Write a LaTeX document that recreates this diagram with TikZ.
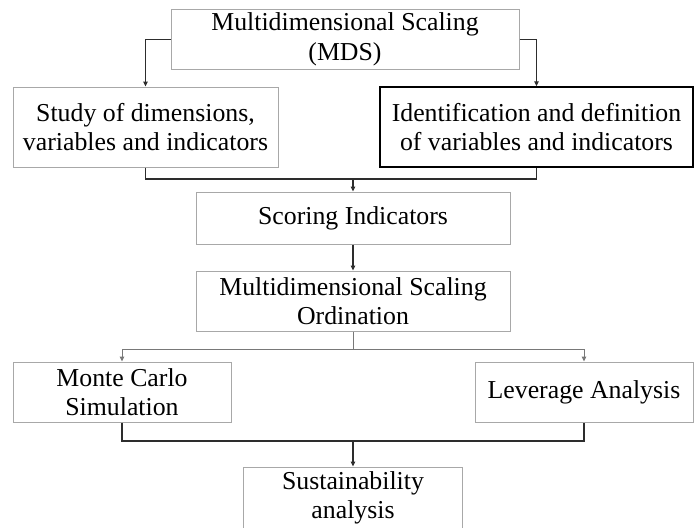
\documentclass[tikz,border=0pt]{standalone}
\usepackage{fontspec}
\setmainfont{Liberation Serif}
\usetikzlibrary{arrows.meta,positioning,calc}
\definecolor{boxgray}{RGB}{168,168,168}
\definecolor{linedark}{RGB}{45,45,45}
\definecolor{linegray}{RGB}{120,120,120}

\begin{document}
\begin{tikzpicture}[x=1pt,y=-1pt,
    stepbox/.style={draw=boxgray,line width=1pt,inner sep=0pt,align=center,
                    font=\fontsize{25.8}{29.5}\selectfont},
    flow/.style={draw=linedark,line width=1.1pt,-{Triangle[length=5pt,width=4.5pt]}},
    flowgray/.style={draw=linegray,line width=1pt,-{Triangle[length=5pt,width=4.5pt]}},
    joinline/.style={draw=linedark,line width=1.1pt}]
    \clip (0,0) rectangle (698,527);

    \node[stepbox,minimum width=348pt,minimum height=59pt] (mds) at (345,39.5)
        {Multidimensional Scaling\\(MDS)};
    \node[stepbox,minimum width=265pt,minimum height=80pt] (study) at (145.5,127)
        {Study of dimensions,\\variables and indicators};
    \node[stepbox,draw=black,line width=1.5pt,minimum width=313pt,minimum height=80pt] (ident) at (536.5,127)
        {Identification and definition\\of variables and indicators};
    \node[stepbox,minimum width=314pt,minimum height=52pt] (score) at (353,218)
        {Scoring Indicators};
    \node[stepbox,minimum width=314pt,minimum height=60pt] (ord) at (353,301)
        {Multidimensional Scaling\\Ordination};
    \node[stepbox,minimum width=218pt,minimum height=60pt] (monte) at (122,392)
        {Monte Carlo\\Simulation};
    \node[stepbox,minimum width=218pt,minimum height=60pt] (lever) at (584,392)
        {Leverage Analysis};
    \node[stepbox,minimum width=219pt,minimum height=62pt] (sust) at (353,498)
        {Sustainability\\analysis};

    % connectors
    \coordinate (m1) at (353,179);
    \coordinate (s1) at (353,349);
    \coordinate (m2) at (353,441);

    \draw[flow] (mds.west) -| (study.north);
    \draw[flow] (mds.east) -| (ident.north);
    \draw[joinline] (study.south) |- (m1) -| (ident.south);
    \draw[flow] (m1) -- (score.north);
    \draw[flow] (score.south) -- (ord.north);
    \draw[draw=linegray,line width=1pt] (ord.south) -- (s1);
    \draw[flowgray] (s1) -| (monte.north);
    \draw[flowgray] (s1) -| (lever.north);
    \draw[joinline] (monte.south) |- (m2) -| (lever.south);
    \draw[flow] (m2) -- (sust.north);
\end{tikzpicture}
\end{document}
